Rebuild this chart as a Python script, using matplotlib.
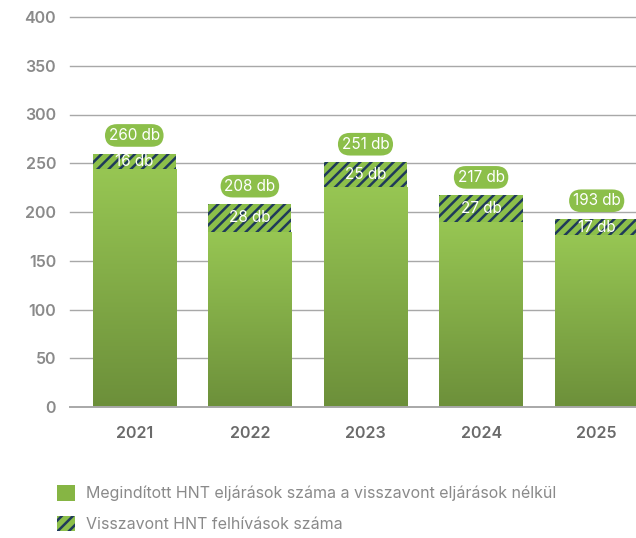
import numpy as np
import matplotlib.pyplot as plt
from matplotlib.patches import Patch
from matplotlib.colors import LinearSegmentedColormap

years = ["2021", "2022", "2023", "2024", "2025"]
totals = [260, 208, 251, 217, 193]
withdrawn = [16, 28, 25, 27, 17]
main = [t - w for t, w in zip(totals, withdrawn)]

GREEN_TOP = "#97c653"
GREEN_BOT = "#6c8f3a"
LABEL_GREEN = "#8cbf4a"
NAVY = "#1f3a5a"
GRAY = "#8a8a8a"

plt.rcParams["font.family"] = ["Inter", "DejaVu Sans"]
plt.rcParams["hatch.linewidth"] = 1.8

fig = plt.figure(figsize=(6.36, 5.38), dpi=100)
ax = fig.add_axes([70/636, 1-407/538, 1-70/636, 390/538])

cmap = LinearSegmentedColormap.from_list("g", [GREEN_BOT, GREEN_TOP])
grad = np.linspace(0, 1, 256).reshape(-1, 1)
width = 0.72
x = np.arange(len(years))

for yv in range(50, 401, 50):
    ax.axhline(yv, color="#a8a8a8", lw=1, zorder=0, clip_on=False)
ax.axhline(0, color="#a8a8a8", lw=1.4, zorder=5, clip_on=False)

for i in x:
    b = ax.bar(i, main[i], width, color="none", zorder=2)[0]
    im = ax.imshow(grad, cmap=cmap, origin="lower", aspect="auto",
                   extent=(i - width/2, i + width/2, 0, main[i]),
                   vmin=-0.05 * (260 - main[i]) / 260, vmax=1, zorder=2)
    im.set_clip_path(b)
    ax.bar(i, withdrawn[i], width, bottom=main[i], color=LABEL_GREEN,
           hatch="///", edgecolor=NAVY, linewidth=0, zorder=3)
    ax.text(i, main[i] + withdrawn[i] / 2, f"{withdrawn[i]} db", ha="center",
            va="center", color="white", fontsize=11, zorder=6)
    ax.annotate(f"{totals[i]} db", (i, totals[i]), xytext=(0, 13),
                textcoords="offset points", ha="center", va="center",
                color="white", fontsize=11, zorder=6,
                bbox=dict(boxstyle="round,pad=0.25,rounding_size=0.8",
                          fc=LABEL_GREEN, ec="none"))

ax.set_xlim(-0.556, 4.34)
ax.set_ylim(0, 400)
ax.set_yticks(range(0, 401, 50))
ax.set_xticks(x)
ax.set_xticklabels(years)
ax.tick_params(axis="y", length=0, pad=10, labelsize=11.5, labelcolor=GRAY)
ax.tick_params(axis="x", length=0, pad=14, labelsize=11.5, labelcolor="#6a6a6a")
for lab in ax.get_yticklabels() + ax.get_xticklabels():
    lab.set_fontweight("semibold")
for s in ax.spines.values():
    s.set_visible(False)

handles = [Patch(facecolor="#86b544", edgecolor="none"),
           Patch(facecolor=LABEL_GREEN, hatch="///", edgecolor=NAVY, linewidth=0)]
labels = ["Megindított HNT eljárások száma a visszavont eljárások nélkül",
          "Visszavont HNT felhívások száma"]
fig.legend(handles, labels, loc="upper left", bbox_to_anchor=(43/636, 1-471/538),
           frameon=False, fontsize=11.5, labelcolor=GRAY, handlelength=1.1,
           handleheight=1.1, handletextpad=0.7, labelspacing=0.9)

fig.savefig("out.png", dpi=100)
